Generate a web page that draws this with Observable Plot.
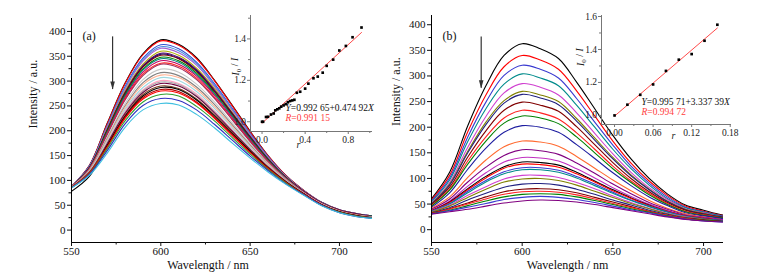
<!DOCTYPE html>
<html><head><meta charset="utf-8">
<script src="https://cdn.jsdelivr.net/npm/d3@7"></script>
<script src="https://cdn.jsdelivr.net/npm/@observablehq/plot@0.6"></script>
<style>
body{margin:0;background:#fff;}
#wrap{position:relative;width:764px;height:279px;overflow:hidden;background:#fff;}
#wrap svg{position:absolute;}
</style></head><body><div id="wrap"></div>
<script>
// ---------- data ----------
const wavelengths = [550,560,570,580,590,600,610,620,630,640,650,660,670,680,690,700,710,720];

const spectraA = [
[88,130,215,296,355,383,374,347,302,251,199,150,110,80,56,41,33,28],
[88,130,214,295,353,381,372,345,301,250,198,150,110,80,56,41,33,28],
[88,129,210,289,346,373,365,338,295,245,195,148,109,79,56,41,33,28],
[88,128,209,287,343,369,361,335,292,243,193,147,108,79,55,40,32,28],
[88,127,207,284,340,366,357,332,289,241,192,146,108,79,55,40,32,27],
[88,126,204,280,334,360,352,326,285,237,189,144,107,78,55,40,32,27],
[87,126,202,277,331,356,348,323,282,235,188,143,106,78,55,40,32,27],
[87,126,201,276,329,354,346,321,280,234,187,143,106,78,54,40,32,27],
[87,125,201,275,328,352,345,319,279,233,186,142,106,78,54,40,32,27],
[87,125,199,272,324,348,341,316,276,230,184,141,105,77,54,39,31,27],
[87,124,197,270,322,345,338,313,274,229,183,140,105,77,54,39,31,27],
[87,124,195,267,318,341,334,310,271,226,181,139,104,77,54,39,31,26],
[87,123,193,264,314,336,330,306,267,223,179,138,103,76,53,39,31,26],
[87,122,192,262,311,334,327,303,265,222,178,137,103,76,53,39,31,26],
[87,121,187,255,303,324,318,294,258,216,174,135,102,75,53,38,30,26],
[86,120,184,250,297,317,311,288,253,212,171,133,101,75,52,38,30,25],
[86,119,182,247,293,312,307,284,249,209,169,132,100,74,52,38,30,25],
[86,118,179,243,287,307,301,279,245,206,167,130,99,74,52,37,29,25],
[86,117,176,239,282,301,295,274,240,202,164,129,98,74,52,37,29,25],
[86,117,175,237,280,298,293,271,238,200,163,128,98,73,51,37,29,25],
[86,116,174,235,277,295,290,269,236,199,162,127,98,73,51,37,29,25],
[86,116,171,231,273,290,285,264,232,196,160,126,97,73,51,37,29,24],
[78,108,170,229,270,287,283,262,230,194,159,125,97,73,51,37,29,24],
[86,114,168,227,267,283,279,258,227,192,157,124,96,72,51,36,28,24],
[86,114,167,225,264,280,276,256,225,190,156,124,96,72,50,36,28,24],
[85,113,164,220,258,273,270,249,220,186,153,122,95,71,50,36,28,24],
[85,112,160,214,251,265,261,242,213,181,149,120,93,71,50,35,27,23],
[85,110,155,207,242,255,252,233,206,175,145,117,92,70,49,35,27,23]
];
const colorsA = ["#000000","#ff0000","#3050d0","#4a90e0","#a060d0","#b0b000","#600060","#000080","#800000","#008000","#008080","#c00060","#ff2020","#a03060","#c8c8c8","#808080","#ffb090","#9fd8e0","#ffa0c0","#a8a8a8","#700040","#804020","#000000","#b00000","#ff0000","#30a030","#3030c0","#40c0e0"];

const spectraB = [
[60,112,203,281,340,363,353,334,288,236,184,138,100,70,48,38,29,25],
[58,106,191,263,318,340,331,313,271,222,173,130,95,67,46,36,28,24],
[56,101,181,249,301,321,313,296,256,210,165,124,91,64,44,35,27,23],
[54,97,172,236,284,304,296,281,243,200,157,119,87,61,43,34,26,23],
[52,92,161,221,267,285,278,263,228,188,148,112,82,59,41,33,25,22],
[51,89,153,210,252,270,263,250,217,179,141,107,79,56,40,32,25,22],
[50,87,150,205,247,264,257,244,212,175,138,105,78,55,39,31,25,21],
[49,83,142,193,233,249,243,231,201,166,131,100,74,53,38,30,24,21],
[47,79,134,181,218,233,228,216,189,157,124,95,71,51,36,29,23,20],
[46,77,128,173,208,222,218,207,181,150,119,92,68,49,35,28,23,20],
[44,72,118,159,190,203,200,190,166,139,111,86,64,47,33,27,22,19],
[42,64,102,136,162,173,171,163,143,120,97,76,57,42,31,25,20,18],
[40,60,93,122,145,156,154,147,130,110,89,70,53,40,29,24,20,18],
[38,56,85,111,132,141,140,134,119,101,82,65,50,38,28,23,19,17],
[37,54,80,104,123,132,131,126,112,95,78,62,48,36,27,22,18,17],
[37,53,78,101,120,128,127,122,109,93,76,61,47,36,27,22,18,17],
[36,51,75,96,113,121,121,116,104,89,73,58,46,35,26,21,18,16],
[36,50,72,93,109,117,117,112,101,86,71,57,45,34,26,21,18,16],
[35,48,67,84,99,106,106,102,92,80,66,53,42,32,25,20,17,16],
[34,46,63,79,93,99,100,96,87,75,63,51,41,31,24,20,17,16],
[33,43,58,71,83,89,90,87,79,69,58,48,38,30,23,19,17,15],
[32,41,52,64,74,79,80,78,72,63,54,45,36,28,22,19,16,15],
[32,40,50,60,69,74,75,73,68,60,51,43,35,28,22,18,16,15],
[31,38,47,56,64,69,70,69,64,57,49,41,34,27,21,18,16,15],
[31,37,44,51,59,63,65,63,59,53,46,39,33,26,21,17,15,14],
[30,35,40,46,52,56,58,57,54,49,43,37,31,25,20,17,15,14]
];
const colorsB = ["#000000","#ff0000","#3a3ad0","#008b8b","#d040d0","#808000","#202080","#800000","#ff2020","#008000","#1e1ea0","#ff6a30","#800080","#c030c0","#000000","#ff0000","#3a3ad0","#008b8b","#d040d0","#808000","#202080","#800000","#ff2020","#008000","#3a3ad0","#800080"];

// insets (r, I0/I)
const insetA_r = [0,0.01,0.037,0.055,0.083,0.108,0.123,0.142,0.16,0.178,0.2,0.22,0.24,0.26,0.28,0.3,0.323,0.354,0.4,0.43,0.477,0.517,0.563,0.6,0.66,0.717,0.778,0.84,0.923];
const insetA_v = [1.0,1.0,1.023,1.024,1.035,1.04,1.055,1.06,1.065,1.073,1.079,1.085,1.094,1.1,1.103,1.106,1.14,1.145,1.16,1.184,1.21,1.218,1.237,1.27,1.30,1.344,1.366,1.408,1.455];
const fitA_r = [0, 0.923];
const fitA_v = [0.993, 1.431];
const insetB_r = [0,0.02,0.04,0.06,0.08,0.10,0.12,0.14,0.16];
const insetB_v = [1.0,1.065,1.125,1.188,1.27,1.338,1.372,1.453,1.55];
const fitB_r = [0, 0.16];
const fitB_v = [0.996, 1.53];

const eqA = ["Y=0.992 65+0.474 92X", "R=0.991 15"];
const eqB = ["Y=0.995 71+3.337 39X", "R=0.994 72"];

// ticks
const xTicksMain = [550,600,650,700];
const xMinorMain = [575,625,675];
const yTicksMain = [0,50,100,150,200,250,300,350,400];
const yMinorMain = [25,75,125,175,225,275,325,375];
const insetA_xTicks = [0,0.4,0.8], insetA_xMinor = [0.2,0.6,1.0];
const insetA_yTicks = [1.0,1.2,1.4], insetA_yMinor = [1.1,1.3,1.5];
const insetB_xTicks = [0,0.06,0.12,0.18], insetB_xMinor = [0.03,0.09,0.15];
const insetB_yTicks = [1.0,1.2,1.4,1.6], insetB_yMinor = [1.1,1.3,1.5];

const arrowA = {x: 573, y1: 389, y2: 283};
const arrowB = {x: 577.4, y1: 376, y2: 276};

// ---------- drawing ----------
const FONT = "'Liberation Serif','Times New Roman',serif";
const wrap = document.getElementById("wrap");

// narrow filled arrowhead, tip at the anchor point, pointing down
const arrowHead = {draw(ctx) { ctx.moveTo(0, 0); ctx.lineTo(-2.3, -8); ctx.lineTo(2.3, -8); ctx.closePath(); }};

function rows(spectra, colors) {
  const out = [];
  spectra.forEach((s, i) => s.forEach((v, j) => out.push({w: wavelengths[j], v, id: i, c: colors[i]})));
  return out;
}

function rich(svg) {
  const map = {
    "I0 / I": [["I","i"],["0","sub"],[" / ",""],["I","i"]],
  };
  for (const e of [...eqA, ...eqB]) {
    if (e.startsWith("Y")) map[e] = [["Y","i"],[e.slice(1,-1),""],["X","i"]];
    else map[e] = [["R","i"],[e.slice(1),""]];
  }
  svg.querySelectorAll("text").forEach(t => {
    const parts = map[t.textContent];
    if (!parts) return;
    t.textContent = "";
    let sub = false;
    for (const [s, k] of parts) {
      const ts = document.createElementNS("http://www.w3.org/2000/svg", "tspan");
      ts.textContent = s;
      if (k === "i") ts.setAttribute("font-style", "italic");
      if (k === "sub") { ts.setAttribute("dy", "0.3em"); ts.setAttribute("font-size", "70%"); sub = true; }
      else if (sub) { ts.setAttribute("dy", "-0.3em"); sub = false; }
      t.appendChild(ts);
    }
  });
}

function mainPanel(o) {
  const svg = Plot.plot({
    width: o.width, height: 279,
    marginLeft: o.ml, marginRight: o.mr, marginTop: o.mt, marginBottom: o.mb,
    x: {domain: o.xd}, y: {domain: o.yd},
    color: {type: "identity"},
    style: {fontFamily: FONT, fontSize: "11px", background: "transparent", color: "#111"},
    marks: [
      Plot.line(rows(o.spectra, o.colors), {x: "w", y: "v", z: "id", stroke: "c", strokeWidth: 1.1, curve: "catmull-rom", clip: true}),
      Plot.ruleX([o.xd[0]], {stroke: "#000", strokeWidth: 1}),
      Plot.ruleY([o.yd[0]], {stroke: "#000", strokeWidth: 1}),
      Plot.axisX({ticks: xTicksMain, tickSize: 4, tickPadding: 1, tickFormat: d => String(d), label: null, fontSize: 11}),
      Plot.axisX({ticks: xMinorMain, tickSize: 2.5, tickFormat: () => "", label: null}),
      Plot.axisY({ticks: yTicksMain, tickSize: 4, tickPadding: 2, tickFormat: d => String(d), label: null, fontSize: 11}),
      Plot.axisY({ticks: yMinorMain, tickSize: 2.5, tickFormat: () => "", label: null}),
      Plot.text(["Wavelength / nm"], {text: d => d, frameAnchor: "bottom", dx: o.xtDx, dy: 26, fontSize: 12}),
      Plot.text(["Intensity / a.u."], {text: d => d, frameAnchor: "left", dx: o.ytDx, dy: o.ytDy, rotate: -90, fontSize: 12}),
      Plot.text([o.tag], {text: d => d, frameAnchor: "top-left", dx: 11, dy: o.tagDy, textAnchor: "start", fontSize: 12}),
      Plot.ruleX([o.arrow], {x: "x", y1: "y1", y2: "y2", stroke: "#333", strokeWidth: 1.2}),
      Plot.dot([o.arrow], {x: "x", y: "y2", symbol: arrowHead, r: 3, fill: "#333", stroke: "none"})
    ]
  });
  svg.style.left = o.left + "px"; svg.style.top = "0px";
  wrap.appendChild(svg);
}

function inset(o) {
  const pts = o.r.map((r, i) => ({r, v: o.v[i]}));
  const fit = o.fr.map((r, i) => ({r, v: o.fv[i]}));
  const svg = Plot.plot({
    width: o.width, height: o.height,
    marginLeft: o.ml, marginRight: o.mr, marginTop: o.mt, marginBottom: o.mb,
    x: {domain: o.xd}, y: {domain: o.yd},
    style: {fontFamily: FONT, fontSize: "9.5px", background: "transparent", color: "#222"},
    marks: [
      Plot.ruleX([o.xd[0]], {stroke: "#777"}),
      Plot.ruleY([o.yd[0]], {stroke: "#777"}),
      Plot.axisX({ticks: o.xt, tickSize: 3, tickPadding: 1.5, tickFormat: d3.format(o.xf), label: null, stroke: "#777"}),
      Plot.axisX({ticks: o.xm, tickSize: 2, tickFormat: () => "", label: null, stroke: "#777"}),
      Plot.axisY({ticks: o.yt, tickSize: 3, tickPadding: 1.5, tickFormat: d3.format(".1f"), label: null, stroke: "#777"}),
      Plot.axisY({ticks: o.ym, tickSize: 2, tickFormat: () => "", label: null, stroke: "#777"}),
      Plot.line(fit, {x: "r", y: "v", stroke: "#ff4a4a", strokeWidth: 1}),
      Plot.dot(pts, {x: "r", y: "v", symbol: "square", r: 1.5, fill: "#000", stroke: "none"}),
      Plot.text(["r"], {text: d => d, frameAnchor: "bottom", dx: o.rDx, dy: o.rDy, fontStyle: "italic", fontSize: 10}),
      Plot.text(["I0 / I"], {text: d => d, frameAnchor: "left", dx: o.ylDx, dy: o.ylDy, rotate: -90, fontSize: 10}),
      Plot.text([o.eq[0]], {text: d => d, frameAnchor: "bottom-left", dx: o.eqDx, dy: o.eqDy1, textAnchor: "start", fill: "#111"}),
      Plot.text([o.eq[1]], {text: d => d, frameAnchor: "bottom-left", dx: o.eqDx, dy: o.eqDy2, textAnchor: "start", fill: "#ff4040"})
    ]
  });
  svg.style.left = o.left + "px"; svg.style.top = o.top + "px";
  rich(svg);
  wrap.appendChild(svg);
}

mainPanel({left: 0, width: 382, ml: 71, mr: 10, mt: 18, mb: 37, xd: [550, 718.5], yd: [-25, 426],
  spectra: spectraA, colors: colorsA, tag: "(a)", tagDy: 13, arrow: arrowA, xtDx: -14, ytDx: -38, ytDy: -2});
mainPanel({left: 382, width: 382, ml: 49, mr: 41, mt: 15, mb: 37, xd: [550, 711], yd: [-25, 418],
  spectra: spectraB, colors: colorsB, tag: "(b)", tagDy: 16, arrow: arrowB, xtDx: -10, ytDx: -35, ytDy: -3});

inset({left: 210, top: 0, width: 167, height: 156, ml: 40, mr: 5, mt: 15, mb: 25,
  xd: [-0.107, 1.025], yd: [0.953, 1.513], r: insetA_r, v: insetA_v, fr: fitA_r, fv: fitA_v,
  xt: insetA_xTicks, xm: insetA_xMinor, yt: insetA_yTicks, ym: insetA_yMinor, xf: ".1f",
  rDx: -13, rDy: 16, ylDx: -15, ylDy: 2, eq: eqA, eqDx: 35, eqDy1: -21, eqDy2: -11});
inset({left: 560, top: 0, width: 204, height: 150, ml: 41, mr: 33, mt: 15, mb: 26,
  xd: [-0.0203, 0.182], yd: [0.945, 1.606], r: insetB_r, v: insetB_v, fr: fitB_r, fv: fitB_v,
  xt: insetB_xTicks, xm: insetB_xMinor, yt: insetB_yTicks, ym: insetB_yMinor, xf: ".2f",
  rDx: 7, rDy: 14, ylDx: -21, ylDy: -4, eq: eqB, eqDx: 40, eqDy1: -20, eqDy2: -10});
</script></body></html>
